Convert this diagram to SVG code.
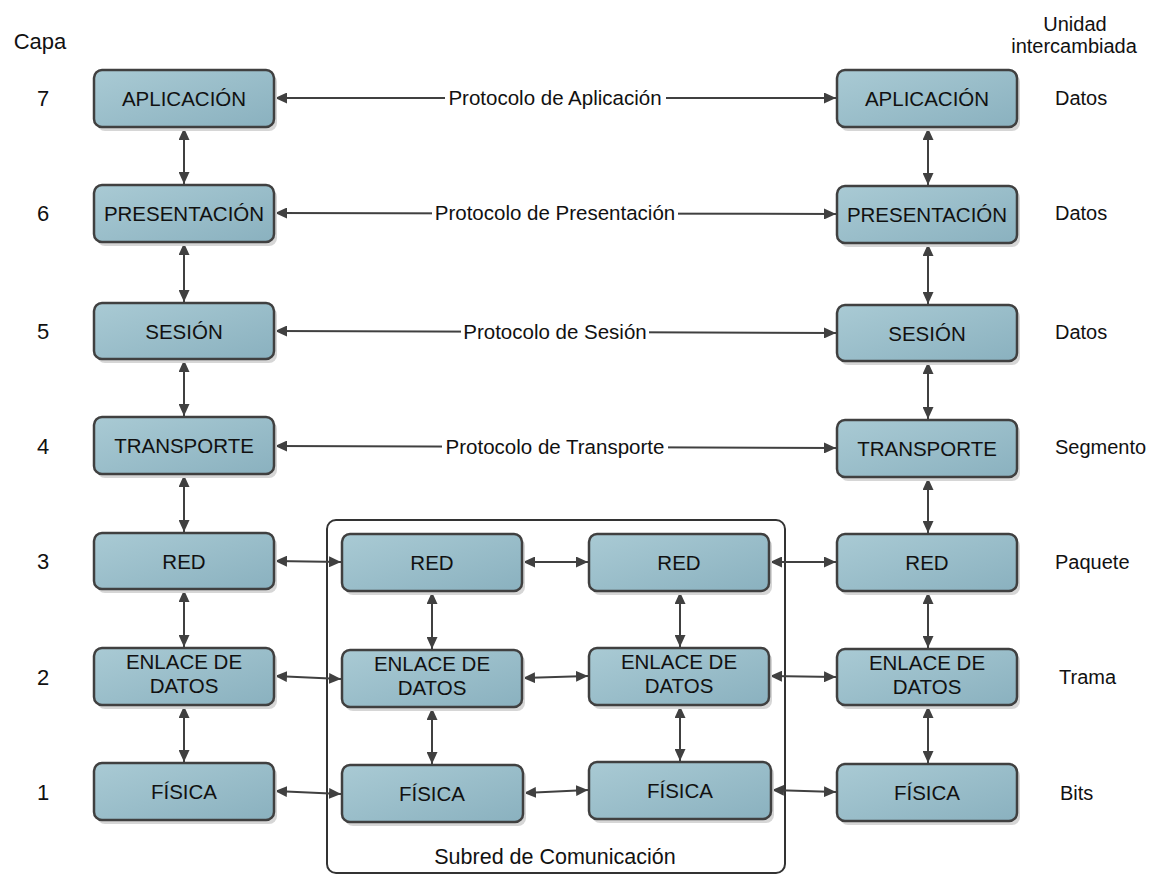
<svg xmlns="http://www.w3.org/2000/svg" width="1153" height="875" viewBox="0 0 1153 875">
  <style>
    text { font-family: "Liberation Sans", Arial, sans-serif; fill: #111; }
    .lbl { font-size: 20.5px; text-anchor: middle; }
    .num { font-size: 22px; text-anchor: middle; }
    .side { font-size: 20px; }
    .box { fill: url(#boxFill); stroke: #404040; stroke-width: 2.5; }
    .shadow { fill: #d6d6d6; }
    .link { stroke: #404040; stroke-width: 2; fill: none; marker-start: url(#arrow); marker-end: url(#arrow); }
    .frame { fill: none; stroke: #333; stroke-width: 2; }
  </style>
  <defs>
    <linearGradient id="boxFill" x1="0" y1="0" x2="1" y2="1">
      <stop offset="0" stop-color="#a9cad4"/>
      <stop offset="1" stop-color="#8ab1bf"/>
    </linearGradient>
    <marker id="arrow" viewBox="0 0 12 11" refX="12" refY="5.5" markerWidth="12" markerHeight="11" markerUnits="userSpaceOnUse" orient="auto-start-reverse">
      <path d="M0,0 L12,5.5 L0,11 z" fill="#404040"/>
    </marker>
  </defs>

  <rect width="1153" height="875" fill="#fff"/>

  <!-- column headings and layer numbers -->
  <text class="num" x="40" y="49">Capa</text>
  <text class="side" x="1075" y="31" text-anchor="middle">Unidad</text>
  <text class="side" x="1074" y="53" text-anchor="middle">intercambiada</text>
  <g id="layer-numbers">
    <text class="num" x="43" y="106">7</text>
    <text class="num" x="43" y="221">6</text>
    <text class="num" x="43" y="339">5</text>
    <text class="num" x="43" y="454">4</text>
    <text class="num" x="43" y="569">3</text>
    <text class="num" x="43" y="685">2</text>
    <text class="num" x="43" y="800">1</text>
  </g>
  <g id="units">
    <text class="side" x="1055" y="105">Datos</text>
    <text class="side" x="1055" y="220">Datos</text>
    <text class="side" x="1055" y="339">Datos</text>
    <text class="side" x="1055" y="454">Segmento</text>
    <text class="side" x="1055" y="569">Paquete</text>
    <text class="side" x="1059" y="684">Trama</text>
    <text class="side" x="1060" y="800">Bits</text>
  </g>

  <!-- communication subnet frame -->
  <g id="subred">
    <rect class="frame" x="327" y="520" width="458" height="353" rx="9"/>
    <text x="555" y="864" style="font-size:21.5px" text-anchor="middle">Subred de Comunicación</text>
  </g>

  <!-- connectors -->
  <g id="connectors">
    <!-- peer protocols -->
    <line class="link" x1="275" y1="98" x2="836" y2="98"/>
    <line class="link" x1="275" y1="213" x2="836" y2="214"/>
    <line class="link" x1="275" y1="331" x2="836" y2="333"/>
    <line class="link" x1="275" y1="446" x2="836" y2="448"/>
    <!-- left host stack -->
    <line class="link" x1="184" y1="128" x2="184" y2="184"/>
    <line class="link" x1="184" y1="243" x2="184" y2="302"/>
    <line class="link" x1="184" y1="360" x2="184" y2="416"/>
    <line class="link" x1="184" y1="475" x2="184" y2="532"/>
    <line class="link" x1="184" y1="590" x2="184" y2="647"/>
    <line class="link" x1="184" y1="706" x2="184" y2="762"/>
    <!-- right host stack -->
    <line class="link" x1="928" y1="128" x2="928" y2="185"/>
    <line class="link" x1="928" y1="244" x2="928" y2="304"/>
    <line class="link" x1="928" y1="362" x2="928" y2="419"/>
    <line class="link" x1="928" y1="478" x2="928" y2="533"/>
    <line class="link" x1="928" y1="592" x2="928" y2="648"/>
    <line class="link" x1="928" y1="706" x2="928" y2="763"/>
    <!-- subnet node stacks -->
    <line class="link" x1="432" y1="592" x2="432" y2="649"/>
    <line class="link" x1="432" y1="708" x2="432" y2="764"/>
    <line class="link" x1="680" y1="592" x2="680" y2="647"/>
    <line class="link" x1="680" y1="706" x2="680" y2="761"/>
    <!-- hop-by-hop links -->
    <line class="link" x1="275" y1="561" x2="341" y2="562"/>
    <line class="link" x1="523" y1="562" x2="588" y2="562"/>
    <line class="link" x1="770" y1="562" x2="836" y2="562"/>
    <line class="link" x1="275" y1="676" x2="341" y2="679"/>
    <line class="link" x1="523" y1="678" x2="588" y2="676"/>
    <line class="link" x1="770" y1="676" x2="836" y2="677"/>
    <line class="link" x1="275" y1="791" x2="341" y2="794"/>
    <line class="link" x1="524" y1="793" x2="588" y2="790"/>
    <line class="link" x1="772" y1="790" x2="836" y2="792"/>
    <!-- protocol labels -->
    <rect x="445" y="86" width="221" height="24" fill="#fff"/>
    <text class="lbl" x="555" y="105">Protocolo de Aplicación</text>
    <rect x="432" y="201" width="246" height="24" fill="#fff"/>
    <text class="lbl" x="555" y="220">Protocolo de Presentación</text>
    <rect x="461" y="320" width="188" height="24" fill="#fff"/>
    <text class="lbl" x="555" y="339">Protocolo de Sesión</text>
    <rect x="442" y="435" width="226" height="24" fill="#fff"/>
    <text class="lbl" x="555" y="454">Protocolo de Transporte</text>
  </g>

  <!-- left host -->
  <g id="a7"><rect class="shadow" x="97" y="74" width="180" height="57" rx="8"/><rect class="box" x="94" y="70" width="180" height="57" rx="8"/><text class="lbl" x="184" y="106">APLICACIÓN</text></g>
  <g id="a6"><rect class="shadow" x="97" y="189" width="180" height="57" rx="8"/><rect class="box" x="94" y="185" width="180" height="57" rx="8"/><text class="lbl" x="184" y="221">PRESENTACIÓN</text></g>
  <g id="a5"><rect class="shadow" x="97" y="307" width="180" height="56" rx="8"/><rect class="box" x="94" y="303" width="180" height="56" rx="8"/><text class="lbl" x="184" y="339">SESIÓN</text></g>
  <g id="a4"><rect class="shadow" x="97" y="421" width="180" height="57" rx="8"/><rect class="box" x="94" y="417" width="180" height="57" rx="8"/><text class="lbl" x="184" y="453">TRANSPORTE</text></g>
  <g id="a3"><rect class="shadow" x="97" y="537" width="180" height="56" rx="8"/><rect class="box" x="94" y="533" width="180" height="56" rx="8"/><text class="lbl" x="184" y="569">RED</text></g>
  <g id="a2"><rect class="shadow" x="97" y="652" width="180" height="57" rx="8"/><rect class="box" x="94" y="648" width="180" height="57" rx="8"/><text class="lbl" x="184" y="669">ENLACE DE</text><text class="lbl" x="184" y="693">DATOS</text></g>
  <g id="a1"><rect class="shadow" x="97" y="767" width="180" height="57" rx="8"/><rect class="box" x="94" y="763" width="180" height="57" rx="8"/><text class="lbl" x="184" y="799">FÍSICA</text></g>

  <!-- subnet node 1 -->
  <g id="b3"><rect class="shadow" x="345" y="538" width="180" height="57" rx="8"/><rect class="box" x="342" y="534" width="180" height="57" rx="8"/><text class="lbl" x="432" y="570">RED</text></g>
  <g id="b2"><rect class="shadow" x="345" y="654" width="180" height="57" rx="8"/><rect class="box" x="342" y="650" width="180" height="57" rx="8"/><text class="lbl" x="432" y="671">ENLACE DE</text><text class="lbl" x="432" y="695">DATOS</text></g>
  <g id="b1"><rect class="shadow" x="345" y="769" width="181" height="57" rx="8"/><rect class="box" x="342" y="765" width="181" height="57" rx="8"/><text class="lbl" x="432" y="801">FÍSICA</text></g>

  <!-- subnet node 2 -->
  <g id="c3"><rect class="shadow" x="592" y="538" width="180" height="57" rx="8"/><rect class="box" x="589" y="534" width="180" height="57" rx="8"/><text class="lbl" x="679" y="570">RED</text></g>
  <g id="c2"><rect class="shadow" x="592" y="652" width="180" height="57" rx="8"/><rect class="box" x="589" y="648" width="180" height="57" rx="8"/><text class="lbl" x="679" y="669">ENLACE DE</text><text class="lbl" x="679" y="693">DATOS</text></g>
  <g id="c1"><rect class="shadow" x="592" y="766" width="182" height="57" rx="8"/><rect class="box" x="589" y="762" width="182" height="57" rx="8"/><text class="lbl" x="680" y="798">FÍSICA</text></g>

  <!-- right host -->
  <g id="d7"><rect class="shadow" x="840" y="74" width="180" height="57" rx="8"/><rect class="box" x="837" y="70" width="180" height="57" rx="8"/><text class="lbl" x="927" y="106">APLICACIÓN</text></g>
  <g id="d6"><rect class="shadow" x="840" y="190" width="180" height="57" rx="8"/><rect class="box" x="837" y="186" width="180" height="57" rx="8"/><text class="lbl" x="927" y="222">PRESENTACIÓN</text></g>
  <g id="d5"><rect class="shadow" x="840" y="309" width="180" height="56" rx="8"/><rect class="box" x="837" y="305" width="180" height="56" rx="8"/><text class="lbl" x="927" y="341">SESIÓN</text></g>
  <g id="d4"><rect class="shadow" x="840" y="424" width="180" height="57" rx="8"/><rect class="box" x="837" y="420" width="180" height="57" rx="8"/><text class="lbl" x="927" y="456">TRANSPORTE</text></g>
  <g id="d3"><rect class="shadow" x="840" y="538" width="180" height="57" rx="8"/><rect class="box" x="837" y="534" width="180" height="57" rx="8"/><text class="lbl" x="927" y="570">RED</text></g>
  <g id="d2"><rect class="shadow" x="840" y="653" width="180" height="56" rx="8"/><rect class="box" x="837" y="649" width="180" height="56" rx="8"/><text class="lbl" x="927" y="670">ENLACE DE</text><text class="lbl" x="927" y="694">DATOS</text></g>
  <g id="d1"><rect class="shadow" x="840" y="768" width="180" height="57" rx="8"/><rect class="box" x="837" y="764" width="180" height="57" rx="8"/><text class="lbl" x="927" y="800">FÍSICA</text></g>
</svg>
